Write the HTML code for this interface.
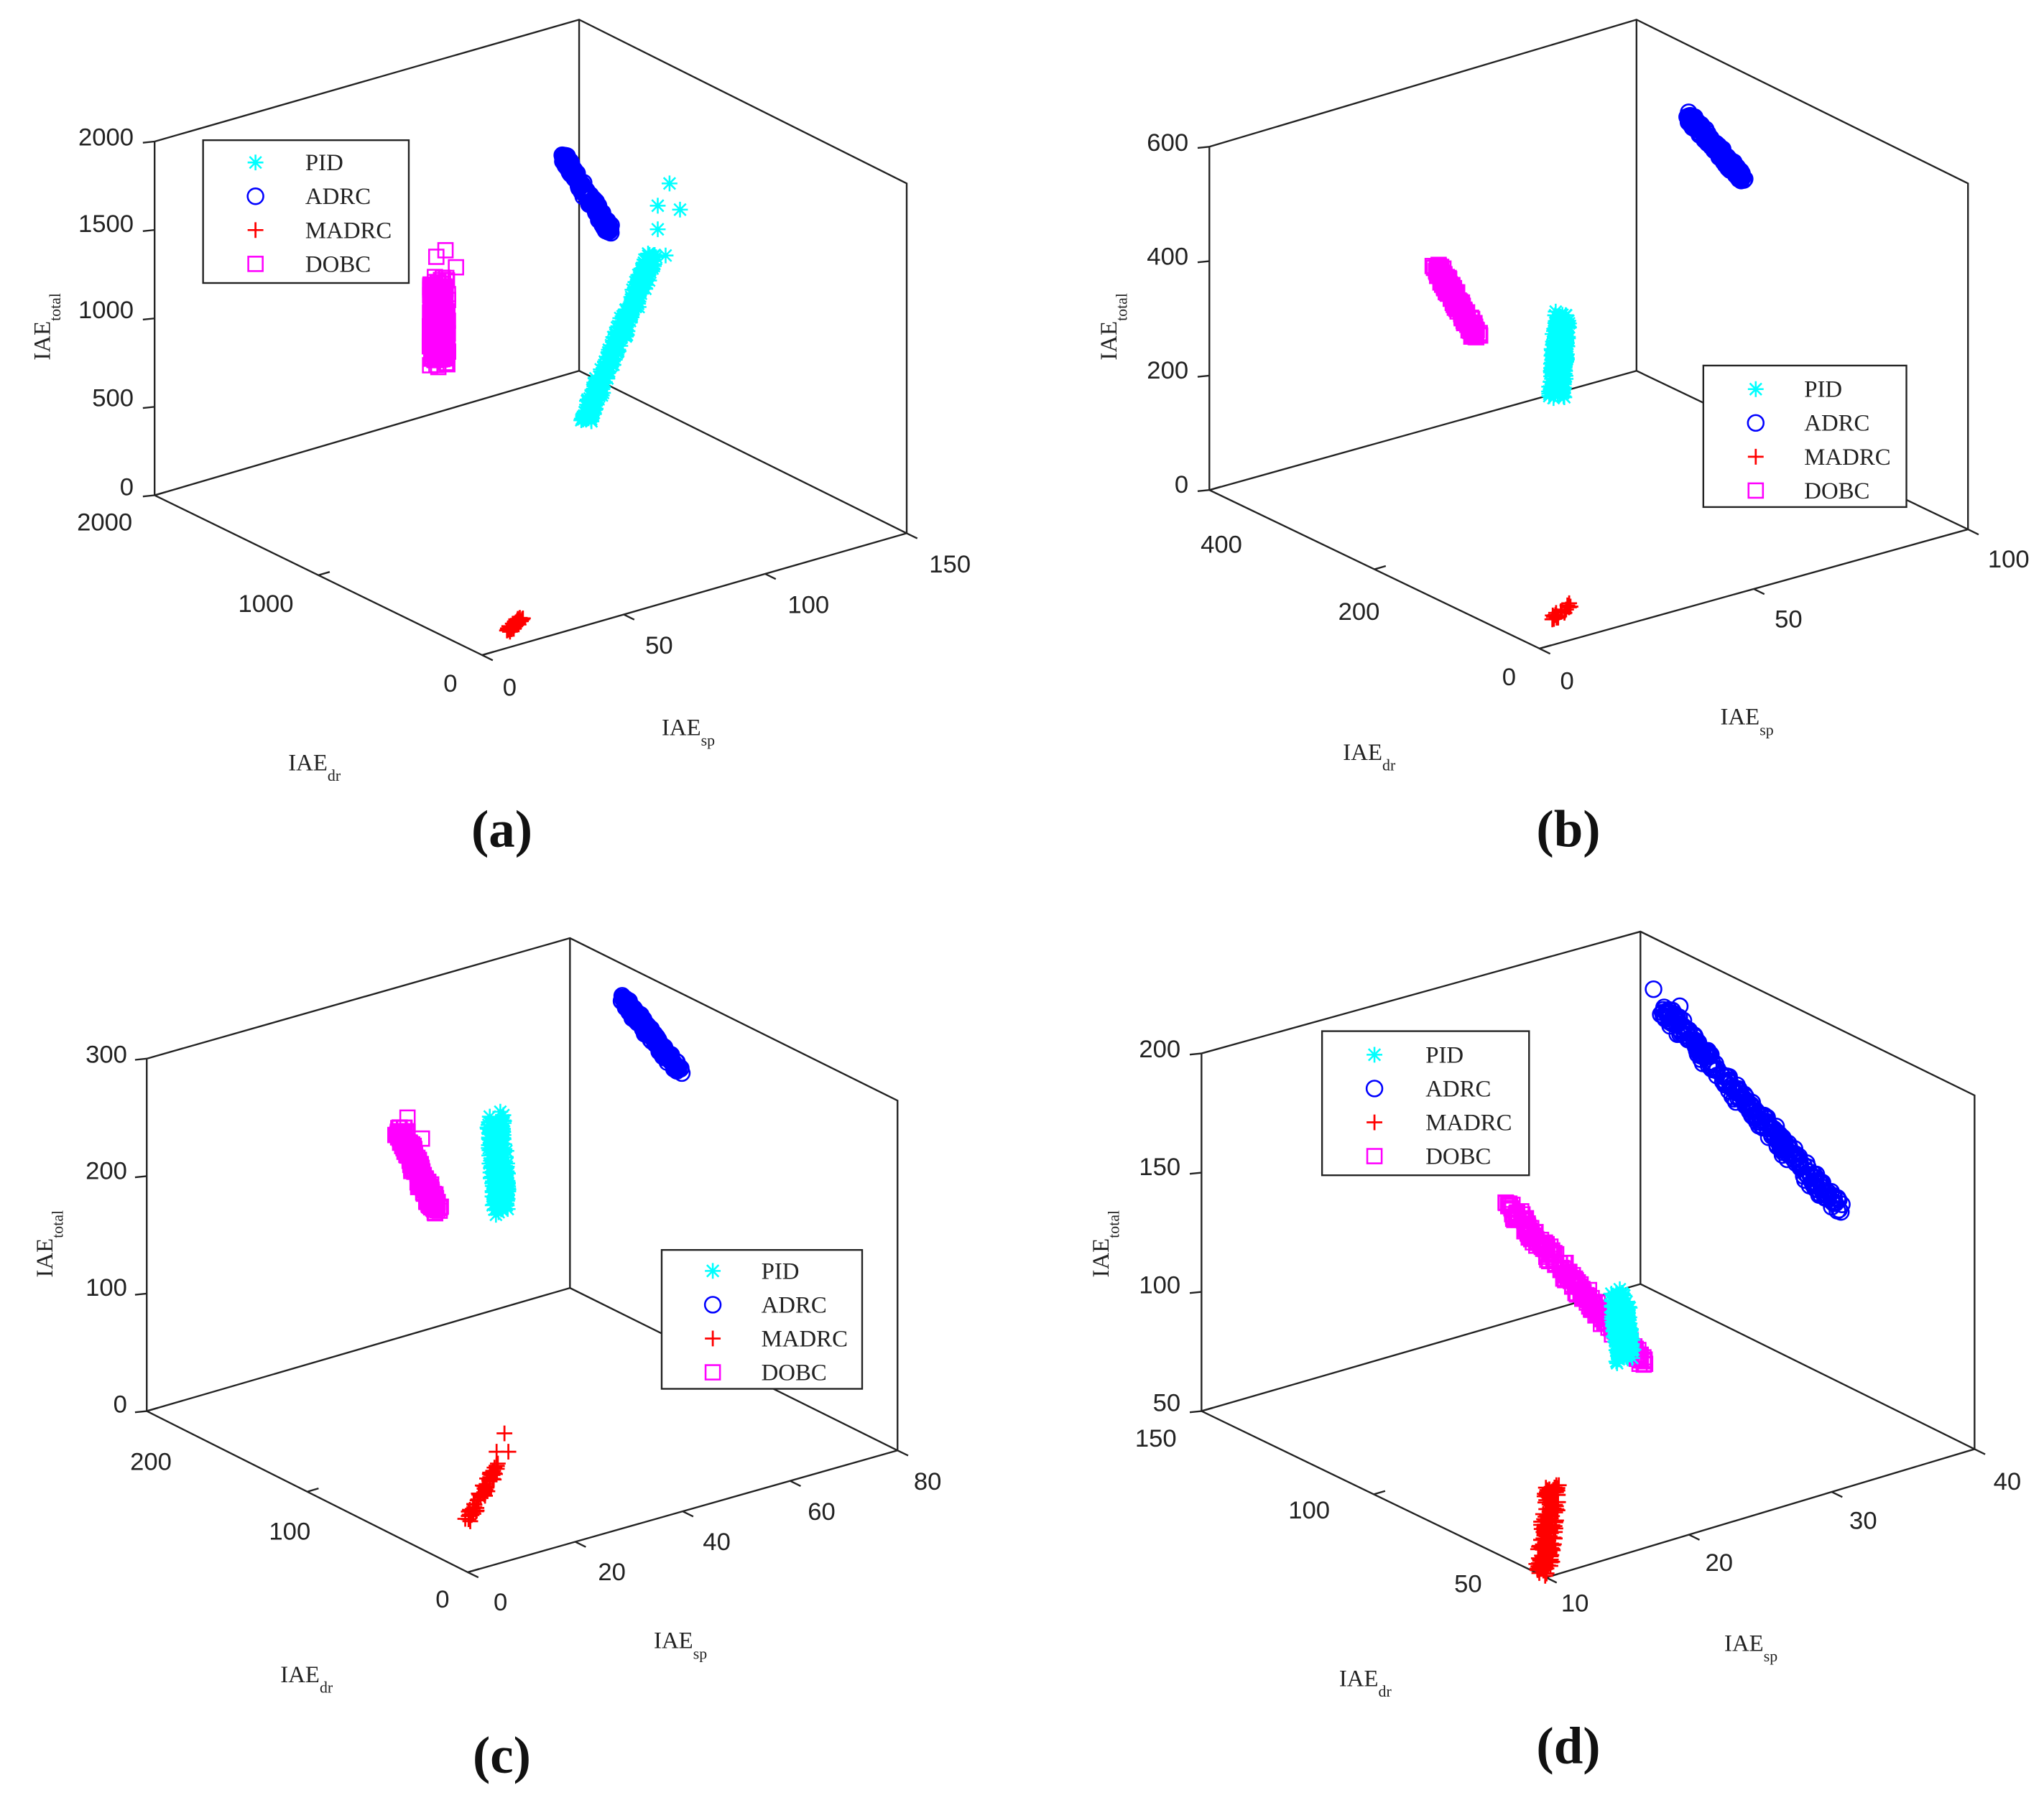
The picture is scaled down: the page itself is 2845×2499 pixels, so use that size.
<!DOCTYPE html>
<html><head><meta charset="utf-8">
<style>
html,body{margin:0;padding:0;background:#fff;}
svg{display:block;}
.t{font-family:"Liberation Sans",sans-serif;font-size:19px;fill:#222;}
.s{font-family:"Liberation Serif",serif;font-size:18px;fill:#222;}
.sub{font-size:12px;}
.cap{font-family:"Liberation Serif",serif;font-size:40px;font-weight:bold;fill:#111;}
line,polyline{stroke:#222;stroke-width:1.3;fill:none;}
</style></head>
<body>
<svg id="sv" width="2845" height="2499" viewBox="0 0 1560 1370" preserveAspectRatio="none" xmlns="http://www.w3.org/2000/svg">
<!-- Panel a -->
<g>
<polyline points="118,108 442,15 692,140 692,407 368,500 118,378 118,108"/>
<polyline points="442,15 442,283 692,407"/>
<line x1="118" y1="378" x2="442" y2="283"/>
<g class="t" text-anchor="end">
<text x="102" y="111">2000</text><text x="102" y="177">1500</text><text x="102" y="243">1000</text><text x="102" y="310">500</text><text x="102" y="378">0</text>
<text x="101" y="405">2000</text><text x="224" y="467">1000</text><text x="349" y="528">0</text>
</g>
<g class="t" text-anchor="middle">
<text x="389" y="531">0</text><text x="503" y="499">50</text><text x="617" y="468">100</text><text x="725" y="437">150</text>
</g>
<text class="s" x="220" y="588">IAE<tspan class="sub" dy="8">dr</tspan></text>
<text class="s" x="505" y="561">IAE<tspan class="sub" dy="8">sp</tspan></text>
<text class="s" transform="translate(38,275) rotate(-90)">IAE<tspan class="sub" dy="8">total</tspan></text>
<rect x="155" y="107" width="157" height="109" fill="#fff" stroke="#222" stroke-width="1.3"/>
<text class="cap" x="383" y="646" text-anchor="middle">(a)</text>
</g>
<!-- Panel b -->
<g>
<polyline points="923,112 1249,15 1502,140 1502,404 1175,495 923,374 923,112"/>
<polyline points="1249,15 1249,283 1502,404"/>
<line x1="923" y1="374" x2="1249" y2="283"/>
<g class="t" text-anchor="end">
<text x="907" y="115">600</text><text x="907" y="202">400</text><text x="907" y="289">200</text><text x="907" y="376">0</text>
<text x="948" y="422">400</text><text x="1053" y="473">200</text><text x="1157" y="523">0</text>
</g>
<g class="t" text-anchor="middle">
<text x="1196" y="526">0</text><text x="1365" y="479">50</text><text x="1533" y="433">100</text>
</g>
<text class="s" x="1025" y="580">IAE<tspan class="sub" dy="8">dr</tspan></text>
<text class="s" x="1313" y="553">IAE<tspan class="sub" dy="8">sp</tspan></text>
<text class="s" transform="translate(852,275) rotate(-90)">IAE<tspan class="sub" dy="8">total</tspan></text>
<rect x="1300" y="279" width="155" height="108" fill="#fff" stroke="#222" stroke-width="1.3"/>
<text class="cap" x="1197" y="646" text-anchor="middle">(b)</text>
</g>
<!-- Panel c -->
<g>
<polyline points="112,808 435,716 685,840 685,1107 357,1200 112,1077 112,808"/>
<polyline points="435,716 435,983 685,1107"/>
<line x1="112" y1="1077" x2="435" y2="983"/>
<g class="t" text-anchor="end">
<text x="97" y="811">300</text><text x="97" y="900">200</text><text x="97" y="989">100</text><text x="97" y="1078">0</text>
<text x="131" y="1122">200</text><text x="237" y="1175">100</text><text x="343" y="1227">0</text>
</g>
<g class="t" text-anchor="middle">
<text x="382" y="1229">0</text><text x="467" y="1206">20</text><text x="547" y="1183">40</text><text x="627" y="1160">60</text><text x="708" y="1137">80</text>
</g>
<text class="s" x="214" y="1284">IAE<tspan class="sub" dy="8">dr</tspan></text>
<text class="s" x="499" y="1258">IAE<tspan class="sub" dy="8">sp</tspan></text>
<text class="s" transform="translate(40,975) rotate(-90)">IAE<tspan class="sub" dy="8">total</tspan></text>
<rect x="505" y="954" width="153" height="106" fill="#fff" stroke="#222" stroke-width="1.3"/>
<text class="cap" x="383" y="1353" text-anchor="middle">(c)</text>
</g>
<!-- Panel d -->
<g>
<polyline points="917,804 1252,711 1507,836 1507,1106 1180,1204 917,1077 917,804"/>
<polyline points="1252,711 1252,980 1507,1106"/>
<line x1="917" y1="1077" x2="1252" y2="980"/>
<g class="t" text-anchor="end">
<text x="901" y="807">200</text><text x="901" y="897">150</text><text x="901" y="987">100</text><text x="901" y="1077">50</text>
<text x="898" y="1104">150</text><text x="1015" y="1159">100</text><text x="1131" y="1215">50</text>
</g>
<g class="t" text-anchor="middle">
<text x="1202" y="1230">10</text><text x="1312" y="1199">20</text><text x="1422" y="1167">30</text><text x="1532" y="1137">40</text>
</g>
<text class="s" x="1022" y="1287">IAE<tspan class="sub" dy="8">dr</tspan></text>
<text class="s" x="1316" y="1260">IAE<tspan class="sub" dy="8">sp</tspan></text>
<text class="s" transform="translate(846,975) rotate(-90)">IAE<tspan class="sub" dy="8">total</tspan></text>
<rect x="1009" y="787" width="158" height="110" fill="#fff" stroke="#222" stroke-width="1.3"/>
<text class="cap" x="1197" y="1346" text-anchor="middle">(d)</text>
</g>
<g id="ticks"></g>
<g id="marks"></g>
<g id="leg" class="s"></g>
</svg>
<script>
(function(){
var NS="http://www.w3.org/2000/svg",g=document.getElementById('marks'),L=document.getElementById('leg'),T=document.getElementById('ticks');
var seed=7;function r(){seed=(seed*16807)%2147483647;return seed/2147483647;}
function el(p,n,a){var e=document.createElementNS(NS,n);for(var k in a)e.setAttribute(k,a[k]);p.appendChild(e);return e;}
function ticks(a,b,n,d){var l=Math.hypot(d[0],d[1]);for(var i=0;i<=n;i++){var x=a[0]+(b[0]-a[0])*i/n,y=a[1]+(b[1]-a[1])*i/n;el(T,'line',{x1:x,y1:y,x2:x+d[0]/l*9,y2:y+d[1]/l*9});}}
// panel ticks: z axis (front-left vertical), dr axis, sp axis
ticks([118,108],[118,378],4,[-1,0.1]);ticks([118,378],[368,500],2,[0.96,-0.28]);ticks([368,500],[692,407],3,[0.9,0.44]);
ticks([923,112],[923,374],3,[-1,0.1]);ticks([923,374],[1175,495],2,[0.96,-0.28]);ticks([1175,495],[1502,404],2,[0.9,0.44]);
ticks([112,808],[112,1077],3,[-1,0.1]);ticks([112,1077],[357,1200],2,[0.96,-0.28]);ticks([357,1200],[685,1107],4,[0.9,0.44]);
ticks([917,804],[917,1077],3,[-1,0.1]);ticks([917,1077],[1180,1204],2,[0.96,-0.28]);ticks([1180,1204],[1507,1106],3,[0.9,0.44]);
function mk(p,type,x,y){
 if(type=='o')el(p,'circle',{cx:x,cy:y,r:6,fill:'none',stroke:'#0000ff','stroke-width':1.4});
 else if(type=='s')el(p,'rect',{x:x-5.5,y:y-5.5,width:11,height:11,fill:'none',stroke:'#ff00ff','stroke-width':1.4});
 else if(type=='+'){el(p,'path',{d:'M'+(x-6)+' '+y+'h12M'+x+' '+(y-6)+'v12',stroke:'#ff0000','stroke-width':1.5,fill:'none'});}
 else {el(p,'path',{d:'M'+(x-6)+' '+y+'h12M'+x+' '+(y-6)+'v12M'+(x-4.5)+' '+(y-4.5)+'l9 9M'+(x+4.5)+' '+(y-4.5)+'l-9 9',stroke:'#00ffff','stroke-width':1.4,fill:'none'});}
}
function cl(type,x1,y1,x2,y2,n,w){for(var i=0;i<n;i++){var t=r();mk(g,type,x1+(x2-x1)*t+(r()-.5)*w,y1+(y2-y1)*t+(r()-.5)*w);}}
// a
cl('o',430,120,466,177,250,5);
cl('*',447,320,498,195,400,8);
mk(g,'*',511,140);mk(g,'*',519,160);mk(g,'*',502,157);mk(g,'*',502,175);mk(g,'*',508,195);
cl('s',335,215,335,275,300,14);mk(g,'s',340,191);mk(g,'s',348,204);mk(g,'s',333,196);
cl('+',388,481,398,472,40,3);
// b
cl('o',1288,88,1331,137,250,5);
cl('s',1096,203,1127,256,250,6);
cl('*',1188,300,1192,242,300,12);
cl('+',1184,473,1198,462,20,4);
// c
cl('o',475,762,519,818,250,5);
cl('s',305,862,333,925,250,8);mk(g,'s',311,853);mk(g,'s',304,861);mk(g,'s',322,869);
cl('*',378,855,383,922,300,13);
cl('+',357,1160,380,1118,60,5);mk(g,'+',385,1094);mk(g,'+',379,1108);mk(g,'+',388,1108);
// d
cl('o',1270,770,1403,922,300,8);mk(g,'o',1262,755);mk(g,'o',1282,768);mk(g,'o',1405,925);
cl('s',1152,920,1255,1042,250,8);
cl('*',1236,990,1240,1035,250,14);
cl('+',1178,1200,1185,1135,200,12);
// legends
var legs=[[195,233,124],[1340,1377,297],[544,581,970],[1049,1088,805]];
var names=['PID','ADRC','MADRC','DOBC'],types=['*','o','+','s'];
legs.forEach(function(l){for(var i=0;i<4;i++){var y=l[2]+i*25.8;mk(L,types[i],l[0],y);var t=el(L,'text',{x:l[1],y:y+6});t.textContent=names[i];}});
})();
</script>
</body></html>
